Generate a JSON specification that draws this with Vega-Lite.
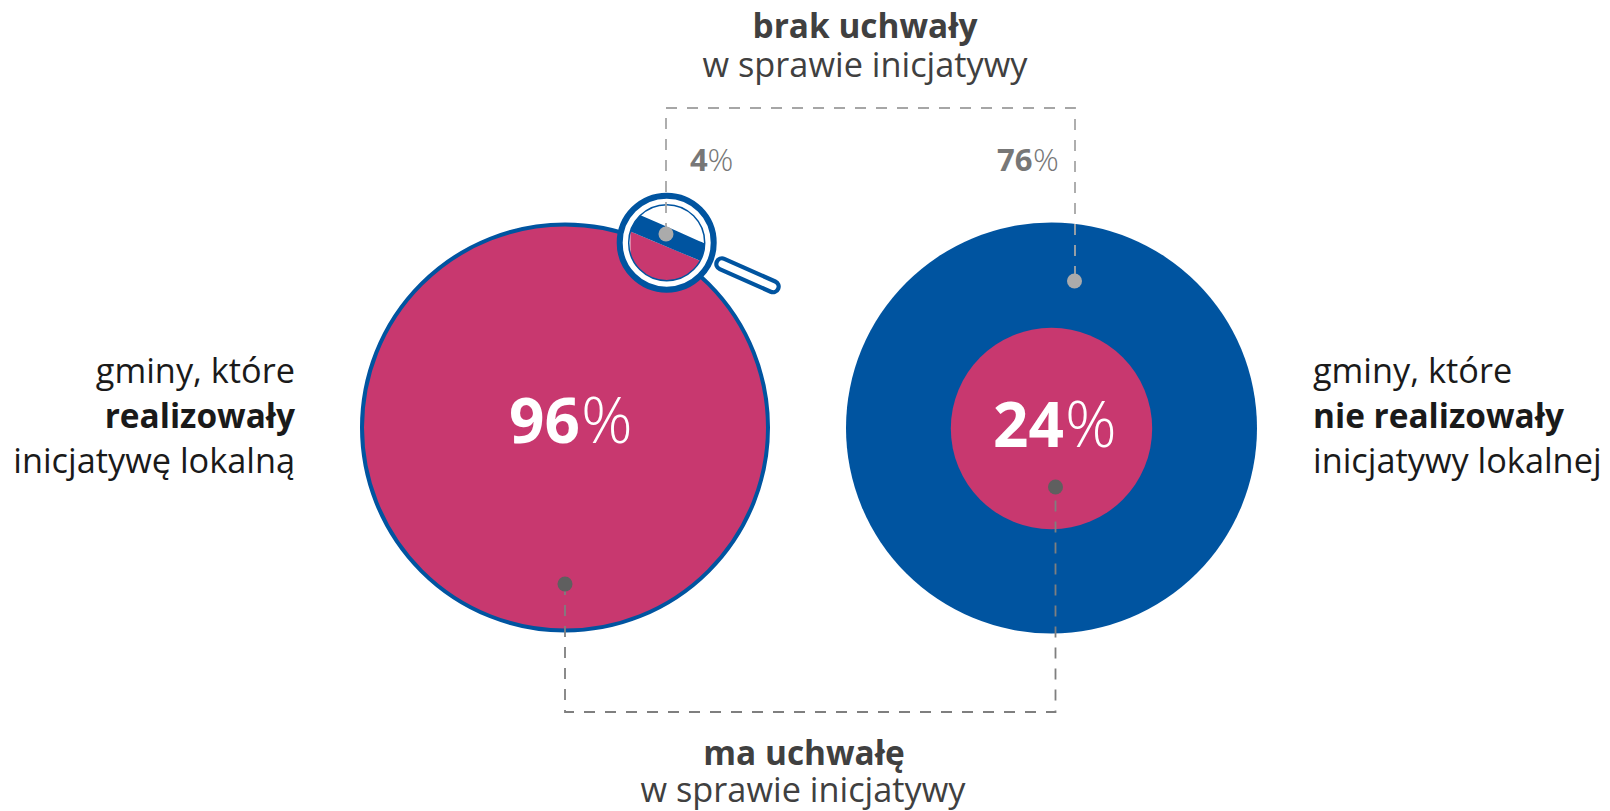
{"$schema":"https://vega.github.io/schema/vega-lite/v6.json","width":1610,"height":811,"padding":0,"autosize":{"type":"fit","contains":"padding"},"background":"white","view":{"stroke":null},
"datasets":{
"discs":[{"gmina":"realizowały","part":"ma uchwałę","x":565,"y":427.5,"share":96},{"gmina":"nie realizowały","part":"brak uchwały","x":1051.5,"y":428,"share":100},{"gmina":"nie realizowały","part":"ma uchwałę","x":1051.5,"y":428.5,"share":24}],
"leaders":[{"id":"brak-4","i":0,"x":666,"y":234},{"id":"brak-4","i":1,"x":666,"y":108},{"id":"brak-4","i":2,"x":1075,"y":108},{"id":"brak-4","i":3,"x":1075,"y":281},{"id":"ma-96","i":0,"x":565,"y":584},{"id":"ma-96","i":1,"x":565,"y":712},{"id":"ma-96","i":2,"x":1055.5,"y":712},{"id":"ma-96","i":3,"x":1055.5,"y":487}],
"dots":[{"status":"brak","x":666,"y":234},{"status":"brak","x":1074.5,"y":281},{"status":"ma","x":565,"y":584},{"status":"ma","x":1055.5,"y":487}],
"lens":[{"x":666.7,"y":242.7}],
"handle":[{"i":0,"x":722,"y":264},{"i":1,"x":773,"y":286.6}],
"band":[{"x":630.4,"y":231.5,"y2":231.5},{"x":632.7,"y":225.73,"y2":232.42},{"x":634.7,"y":222.21,"y2":233.26},{"x":636.7,"y":219.38,"y2":234.1},{"x":638.7,"y":217.01,"y2":234.94},{"x":640.5,"y":215.17,"y2":235.7},{"x":656.7,"y":222.3,"y2":242.5},{"x":676.7,"y":231.1,"y2":250.9},{"x":696.7,"y":239.9,"y2":259.3},{"x":700.14,"y":241.41,"y2":260.74},{"x":701.7,"y":242.1,"y2":257.5},{"x":703.7,"y":242.98,"y2":251.36},{"x":704.7,"y":243.42,"y2":243.42}],
"segment":[{"x":630.4,"y":231.45,"y2":253.94},{"x":632.7,"y":232.42,"y2":259.67},{"x":636.7,"y":234.1,"y2":266.02},{"x":641.7,"y":236.2,"y2":271.32},{"x":646.7,"y":238.3,"y2":275},{"x":651.7,"y":240.4,"y2":277.61},{"x":659.2,"y":243.55,"y2":279.95},{"x":666.7,"y":246.7,"y2":280.7},{"x":674.2,"y":249.85,"y2":279.95},{"x":681.7,"y":253,"y2":277.61},{"x":686.7,"y":255.1,"y2":275},{"x":691.7,"y":257.2,"y2":271.32},{"x":696.7,"y":259.3,"y2":266.02},{"x":698.7,"y":260.14,"y2":263.19},{"x":700.14,"y":260.74,"y2":260.75}],
"labels":[
{"role":"rr","text":"gminy, które","x":295,"y":383},{"role":"rb","text":"realizowały","x":295,"y":428},{"role":"rr","text":"inicjatywę lokalną","x":295,"y":473},
{"role":"lr","text":"gminy, które","x":1313,"y":383},{"role":"lb","text":"nie realizowały","x":1313,"y":428},{"role":"lr","text":"inicjatywy lokalnej","x":1313,"y":473},
{"role":"cb","text":"brak uchwały","x":865,"y":38},{"role":"cr","text":"w sprawie inicjatywy","x":865,"y":77},{"role":"cb","text":"ma uchwałę","x":804,"y":765},{"role":"cr","text":"w sprawie inicjatywy","x":803,"y":802},
{"role":"bigb","text":"96","x":509,"y":443},{"role":"bigp","text":"%","x":581,"y":443},{"role":"bigb","text":"24","x":993,"y":447},{"role":"bigp","text":"%","x":1065,"y":447},
{"role":"smb","text":"4","x":690,"y":171},{"role":"smp","text":"%","x":707.5,"y":171},{"role":"smb","text":"76","x":997,"y":171},{"role":"smp","text":"%","x":1033,"y":171}
]},
"encoding":{"x":{"field":"x","type":"quantitative","scale":{"domain":[0,1610],"nice":false,"zero":false},"axis":null},"y":{"field":"y","type":"quantitative","scale":{"domain":[0,811],"reverse":true,"nice":false,"zero":false},"axis":null}},
"layer":[
{"data":{"name":"discs"},"transform":[{"filter":"datum.gmina=='nie realizowały' && datum.part=='brak uchwały'"}],"mark":{"type":"point","shape":"circle","filled":true,"fill":"#0054A0","opacity":1,"strokeWidth":0},"encoding":{"size":{"field":"share","type":"quantitative","scale":{"domain":[0,100],"range":[0,168921]},"legend":null}}},
{"data":{"name":"discs"},"transform":[{"filter":"datum.gmina=='nie realizowały' && datum.part=='ma uchwałę'"}],"mark":{"type":"point","shape":"circle","filled":true,"fill":"#C8386F","opacity":1,"strokeWidth":0},"encoding":{"size":{"field":"share","type":"quantitative","scale":{"domain":[0,100],"range":[0,168921]},"legend":null}}},
{"data":{"name":"discs"},"transform":[{"filter":"datum.gmina=='realizowały'"}],"mark":{"type":"point","shape":"circle","size":164836,"fill":"#C8386F","fillOpacity":1,"stroke":"#0054A0","strokeWidth":4,"opacity":1}},
{"data":{"name":"handle"},"mark":{"type":"line","stroke":"#0054A0","strokeWidth":15.5,"strokeCap":"round"},"encoding":{"order":{"field":"i"}}},
{"data":{"name":"handle"},"mark":{"type":"line","stroke":"#FFFFFF","strokeWidth":7,"strokeCap":"round"},"encoding":{"order":{"field":"i"}}},
{"data":{"name":"lens"},"mark":{"type":"point","shape":"circle","size":8836,"fill":"#FFFFFF","fillOpacity":1,"stroke":"#0054A0","strokeWidth":6,"opacity":1}},
{"data":{"name":"segment"},"mark":{"type":"area","fill":"#C8386F","opacity":1},"encoding":{"y2":{"field":"y2"}}},
{"data":{"name":"band"},"mark":{"type":"area","fill":"#0054A0","opacity":1},"encoding":{"y2":{"field":"y2"}}},
{"data":{"name":"lens"},"mark":{"type":"point","shape":"circle","size":5776,"filled":false,"stroke":"#0054A0","strokeWidth":1.5,"opacity":1}},
{"data":{"name":"leaders"},"transform":[{"filter":"datum.id=='brak-4'"}],"mark":{"type":"line","stroke":"#A6A6A6","strokeWidth":1.8,"strokeDash":[11,10]},"encoding":{"order":{"field":"i"}}},
{"data":{"name":"leaders"},"transform":[{"filter":"datum.id=='ma-96'"}],"mark":{"type":"line","stroke":"#7F7F7F","strokeWidth":1.8,"strokeDash":[11,10]},"encoding":{"order":{"field":"i"}}},
{"data":{"name":"dots"},"transform":[{"filter":"datum.status=='brak'"}],"mark":{"type":"point","shape":"circle","size":225,"filled":true,"fill":"#ABABAB","opacity":1,"strokeWidth":0}},
{"data":{"name":"dots"},"transform":[{"filter":"datum.status=='ma'"}],"mark":{"type":"point","shape":"circle","size":225,"filled":true,"fill":"#5F5F5F","opacity":1,"strokeWidth":0}},
{"data":{"name":"labels"},"transform":[{"filter":"datum.role=='rr'"}],"mark":{"type":"text","align":"right","baseline":"alphabetic","font":"Open Sans","fontSize":34.3,"fontWeight":400,"fill":"#1A1A1A"},"encoding":{"text":{"field":"text"}}},
{"data":{"name":"labels"},"transform":[{"filter":"datum.role=='rb'"}],"mark":{"type":"text","align":"right","baseline":"alphabetic","font":"Open Sans","fontSize":33.4,"fontWeight":700,"fill":"#1A1A1A"},"encoding":{"text":{"field":"text"}}},
{"data":{"name":"labels"},"transform":[{"filter":"datum.role=='lr'"}],"mark":{"type":"text","align":"left","baseline":"alphabetic","font":"Open Sans","fontSize":34.3,"fontWeight":400,"fill":"#1A1A1A"},"encoding":{"text":{"field":"text"}}},
{"data":{"name":"labels"},"transform":[{"filter":"datum.role=='lb'"}],"mark":{"type":"text","align":"left","baseline":"alphabetic","font":"Open Sans","fontSize":33.4,"fontWeight":700,"fill":"#1A1A1A"},"encoding":{"text":{"field":"text"}}},
{"data":{"name":"labels"},"transform":[{"filter":"datum.role=='cb'"}],"mark":{"type":"text","align":"center","baseline":"alphabetic","font":"Open Sans","fontSize":33.4,"fontWeight":700,"fill":"#404040"},"encoding":{"text":{"field":"text"}}},
{"data":{"name":"labels"},"transform":[{"filter":"datum.role=='cr'"}],"mark":{"type":"text","align":"center","baseline":"alphabetic","font":"Open Sans","fontSize":34.3,"fontWeight":400,"fill":"#404040"},"encoding":{"text":{"field":"text"}}},
{"data":{"name":"labels"},"transform":[{"filter":"datum.role=='bigb'"}],"mark":{"type":"text","align":"left","baseline":"alphabetic","font":"Open Sans","fontSize":62,"fontWeight":700,"fill":"#FFFFFF"},"encoding":{"text":{"field":"text"}}},
{"data":{"name":"labels"},"transform":[{"filter":"datum.role=='bigp'"}],"mark":{"type":"text","align":"left","baseline":"alphabetic","font":"Open Sans","fontSize":64,"fontWeight":300,"fill":"#FFFFFF"},"encoding":{"text":{"field":"text"}}},
{"data":{"name":"labels"},"transform":[{"filter":"datum.role=='smb'"}],"mark":{"type":"text","align":"left","baseline":"alphabetic","font":"Open Sans","fontSize":31,"fontWeight":700,"fill":"#777777"},"encoding":{"text":{"field":"text"}}},
{"data":{"name":"labels"},"transform":[{"filter":"datum.role=='smp'"}],"mark":{"type":"text","align":"left","baseline":"alphabetic","font":"Open Sans","fontSize":32,"fontWeight":300,"fill":"#777777"},"encoding":{"text":{"field":"text"}}}
]}
